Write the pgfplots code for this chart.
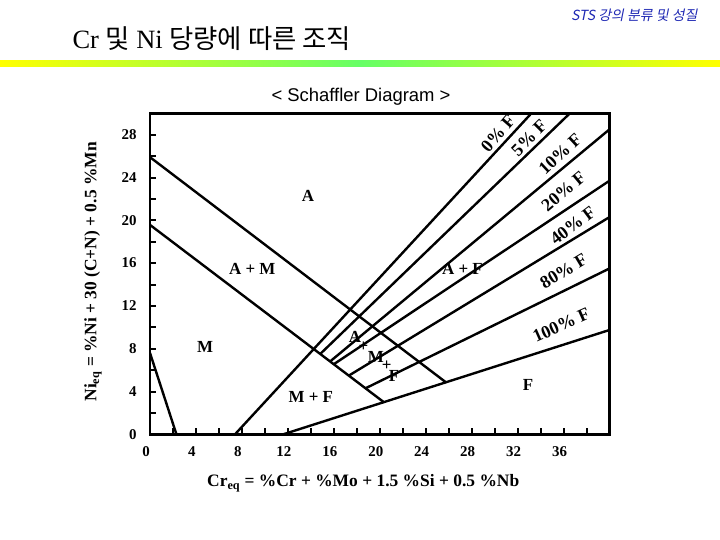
\documentclass[border=0pt]{standalone}
\usepackage{fontspec}
\setmainfont{Liberation Serif}
\setsansfont{Liberation Sans}
\newfontfamily\kr{Noto Sans CJK KR}
\newfontfamily\krit{Noto Sans CJK KR}[FakeSlant=0.2]
\usepackage{pgfplots}
\pgfplotsset{compat=1.18}
\definecolor{barYellow}{HTML}{FFFF00}
\definecolor{barGreen}{HTML}{66FF66}
\definecolor{stsBlue}{HTML}{1E28B4}
\tikzset{
  lbl/.style={font=\bfseries\fontsize{17}{20}\selectfont},
  flbl/.style={font=\bfseries\fontsize{18}{21}\selectfont, inner sep=0pt},
}

\begin{document}
\begin{tikzpicture}[x=1bp,y=1bp]
  % page frame, 720 x 540
  \fill[white] (0,0) rectangle (720,-540);
  \node[font=\fontsize{26.5}{30}\selectfont, anchor=west] at (69,-39)
    {Cr {\kr 및} Ni {\kr 당량에 따른 조직}};
  \node[font=\krit\fontsize{14}{16}\selectfont, text=stsBlue, anchor=east] at (701,-15)
    {STS 강의 분류 및 성질};
  \shade[left color=barYellow, right color=barGreen] (0,-60.5) rectangle (360.5,-66.5);
  \shade[left color=barGreen, right color=barYellow] (360,-60.5) rectangle (720,-66.5);
  \node[font=\sffamily\fontsize{18.5}{22}\selectfont] at (361,-97) {< Schaffler Diagram >};

  \begin{axis}[
    at={(150bp,-434.3bp)}, anchor=south west,
    scale only axis, width=459.5bp, height=321bp,
    xmin=0, xmax=40, ymin=0, ymax=30,
    xtick={0,4,...,36}, minor xtick={2,6,...,38},
    ytick={0,4,...,28}, minor ytick={2,6,...,26},
    xticklabels={0,4,8,12,16,20,24,28,32,36},
    yticklabels={0,4,8,12,16,20,24,28},
    tick pos=left, tick align=inside,
    major tick length=6bp, minor tick length=6bp,
    tick style={black, line width=2bp},
    axis line style={line width=2.6bp},
    ticklabel style={font=\bfseries\fontsize{15}{18}\selectfont},
    xticklabel style={yshift=-9bp, xshift=-4bp},
    yticklabel style={xshift=-10bp},
    xlabel={Cr\textsubscript{eq} = \%Cr + \%Mo + 1.5 \%Si + 0.5 \%Nb},
    ylabel={Ni\textsubscript{eq} = \%Ni + 30 (C+N) + 0.5 \%Mn},
    label style={font=\bfseries\fontsize{17.5}{20}\selectfont},
    xlabel style={at={(axis description cs:0.464,-0.152)}, anchor=center},
    ylabel style={at={(axis description cs:-0.124,0.506)}, anchor=center},
    every axis plot post/.append style={black, solid, mark=none, line width=2.4bp},
  ]
    % martensite / austenite boundaries
    \addplot coordinates {(0,7.6) (2.3,0)};
    \addplot coordinates {(0,25.9) (25.77,4.85)};
    \addplot coordinates {(0,19.57) (20.37,2.99)};
    % ferrite lines
    \addplot coordinates {(7.4,0) (33.2,30)};       % 0% F
    \addplot coordinates {(14.82,7.51) (36.55,30)}; % 5% F
    \addplot coordinates {(15.68,6.81) (40,28.5)};  % 10% F
    \addplot coordinates {(16.0,6.55) (40,23.7)};   % 20% F
    \addplot coordinates {(17.3,5.48) (40,20.3)};   % 40% F
    \addplot coordinates {(18.76,4.3) (40,15.5)};   % 80% F
    \addplot coordinates {(11.6,0) (40,9.75)};      % 100% F

    \node[lbl] at (axis cs:13.75,22.3) {A};
    \node[lbl] at (axis cs:8.9,15.5) {A + M};
    \node[lbl] at (axis cs:4.8,8.2) {M};
    \node[lbl] at (axis cs:14.0,3.5) {M + F};
    \node[lbl] at (axis cs:27.2,15.5) {A + F};
    \node[lbl] at (axis cs:32.9,4.6) {F};
    \node[lbl] at (axis cs:17.84,9.12) {A};
    \node[lbl] at (axis cs:18.57,8.19) {+};
    \node[lbl] at (axis cs:19.67,7.25) {M};
    \node[lbl] at (axis cs:20.6,6.38) {+};
    \node[lbl] at (axis cs:21.24,5.44) {F};

    \node[flbl, rotate=49] at (axis cs:30.3,28.1) {0\% F};
    \node[flbl, rotate=45] at (axis cs:33.0,27.7) {5\% F};
    \node[flbl, rotate=43] at (axis cs:35.7,26.2) {10\% F};
    \node[flbl, rotate=40] at (axis cs:36.0,22.7) {20\% F};
    \node[flbl, rotate=37] at (axis cs:36.8,19.5) {40\% F};
    \node[flbl, rotate=31] at (axis cs:36.0,15.25) {80\% F};
    \node[flbl, rotate=24] at (axis cs:35.8,10.2) {100\% F};
  \end{axis}
\end{tikzpicture}
\end{document}
